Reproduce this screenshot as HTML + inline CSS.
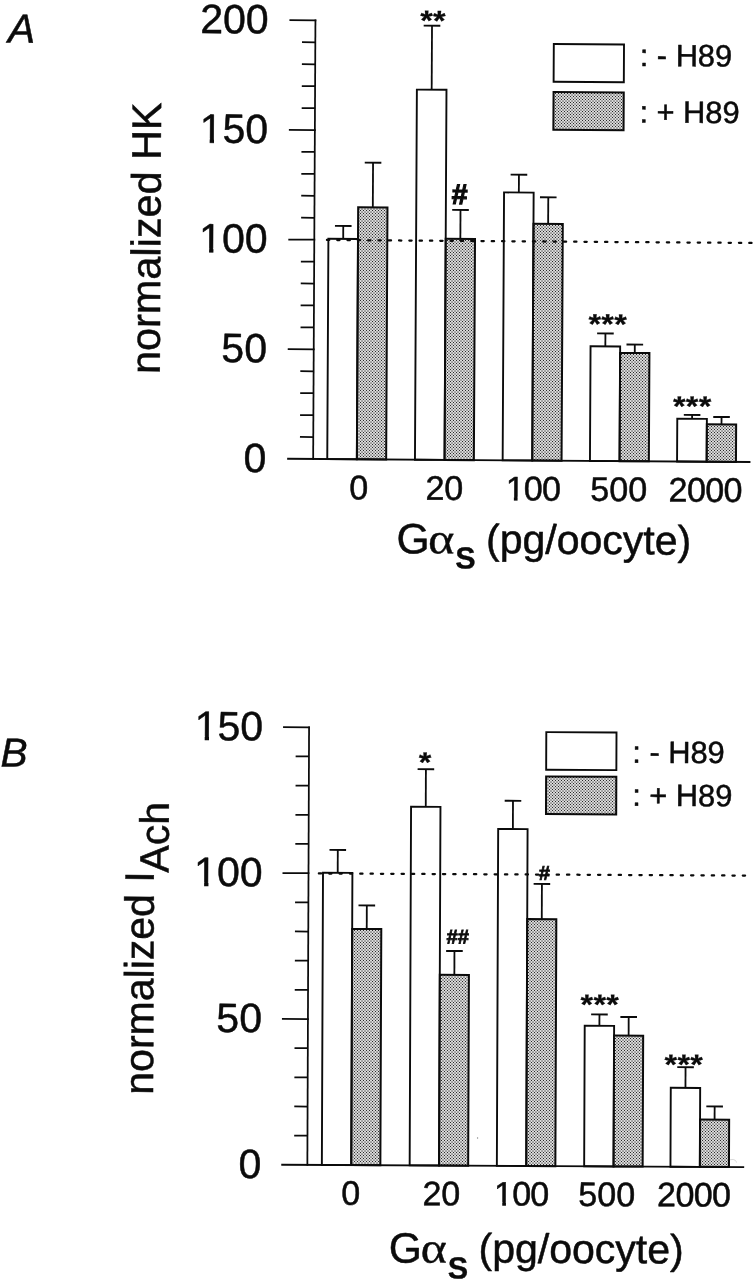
<!DOCTYPE html>
<html lang="en">
<head>
<meta charset="utf-8">
<title>Figure: normalized HK and I_ACh vs G&#945;s</title>
<style>
html,body{margin:0;padding:0;background:#fff;}
body{width:754px;height:1280px;overflow:hidden;font-family:"Liberation Sans", sans-serif;}
svg{display:block;filter:grayscale(1);}
text{text-rendering:geometricPrecision;}
</style>
</head>
<body>
<svg width="754" height="1280" viewBox="0 0 754 1280">
<defs>
<pattern id="htA" x="-0.25" y="-0.25" width="3" height="3" patternUnits="userSpaceOnUse" patternTransform="matrix(0.999964,-0.007000,0.005200,0.999964,-1.2313,2.2136)"><rect x="0" y="0" width="1.5" height="1.5" rx="0.3" fill="#050505"/><rect x="1.5" y="1.5" width="1.5" height="1.5" rx="0.3" fill="#707070"/></pattern>
<pattern id="htB" x="-0.25" y="-0.25" width="3" height="3" patternUnits="userSpaceOnUse" patternTransform="matrix(0.999981,-0.005000,0.003900,0.999981,-3.3986,1.5600)"><rect x="0" y="0" width="1.5" height="1.5" rx="0.3" fill="#050505"/><rect x="1.5" y="1.5" width="1.5" height="1.5" rx="0.3" fill="#707070"/></pattern>
</defs>
<rect width="754" height="1280" fill="#fff"/>
<g transform="matrix(1,0.007,-0.0052,1,1.2428,-2.2050)">
<rect x="328.4" y="238.7" width="29.6" height="220.3" fill="#fff" stroke="#0b0b0b" stroke-width="1.9"/>
<rect x="358" y="206.9" width="29.3" height="252.1" fill="url(#htA)" stroke="#0b0b0b" stroke-width="2.0"/>
<line x1="343.2" y1="238.7" x2="343.2" y2="225.7" stroke="#0b0b0b" stroke-width="1.8" />
<line x1="334.9" y1="225.7" x2="351.5" y2="225.7" stroke="#0b0b0b" stroke-width="1.9" />
<line x1="372.65" y1="206.9" x2="372.65" y2="162.3" stroke="#0b0b0b" stroke-width="1.8" />
<line x1="364.35" y1="162.3" x2="380.95" y2="162.3" stroke="#0b0b0b" stroke-width="1.9" />
<rect x="416.1" y="88.89" width="29.6" height="370.11" fill="#fff" stroke="#0b0b0b" stroke-width="1.9"/>
<rect x="445.7" y="237.78" width="29.3" height="221.22" fill="url(#htA)" stroke="#0b0b0b" stroke-width="2.0"/>
<line x1="430.9" y1="88.89" x2="430.9" y2="24.89" stroke="#0b0b0b" stroke-width="1.8" />
<line x1="422.6" y1="24.89" x2="439.2" y2="24.89" stroke="#0b0b0b" stroke-width="1.9" />
<line x1="460.35" y1="237.78" x2="460.35" y2="208.88" stroke="#0b0b0b" stroke-width="1.8" />
<line x1="452.05" y1="208.88" x2="468.65" y2="208.88" stroke="#0b0b0b" stroke-width="1.9" />
<rect x="503.8" y="191.07" width="29.6" height="267.93" fill="#fff" stroke="#0b0b0b" stroke-width="1.9"/>
<rect x="533.4" y="222.17" width="29.3" height="236.83" fill="url(#htA)" stroke="#0b0b0b" stroke-width="2.0"/>
<line x1="518.6" y1="191.07" x2="518.6" y2="173.27" stroke="#0b0b0b" stroke-width="1.8" />
<line x1="510.3" y1="173.27" x2="526.9" y2="173.27" stroke="#0b0b0b" stroke-width="1.9" />
<line x1="548.05" y1="222.17" x2="548.05" y2="195.67" stroke="#0b0b0b" stroke-width="1.8" />
<line x1="539.75" y1="195.67" x2="556.35" y2="195.67" stroke="#0b0b0b" stroke-width="1.9" />
<rect x="591.1" y="344.36" width="29.6" height="114.64" fill="#fff" stroke="#0b0b0b" stroke-width="1.9"/>
<rect x="620.7" y="350.76" width="29.3" height="108.24" fill="url(#htA)" stroke="#0b0b0b" stroke-width="2.0"/>
<line x1="605.9" y1="344.36" x2="605.9" y2="331.36" stroke="#0b0b0b" stroke-width="1.8" />
<line x1="597.6" y1="331.36" x2="614.2" y2="331.36" stroke="#0b0b0b" stroke-width="1.9" />
<line x1="635.35" y1="350.76" x2="635.35" y2="342.36" stroke="#0b0b0b" stroke-width="1.8" />
<line x1="627.05" y1="342.36" x2="643.65" y2="342.36" stroke="#0b0b0b" stroke-width="1.9" />
<rect x="678.2" y="416.15" width="29.6" height="42.85" fill="#fff" stroke="#0b0b0b" stroke-width="1.9"/>
<rect x="707.8" y="421.55" width="29.3" height="37.45" fill="url(#htA)" stroke="#0b0b0b" stroke-width="2.0"/>
<line x1="693" y1="416.15" x2="693" y2="412.25" stroke="#0b0b0b" stroke-width="1.8" />
<line x1="684.7" y1="412.25" x2="701.3" y2="412.25" stroke="#0b0b0b" stroke-width="1.9" />
<line x1="722.45" y1="421.55" x2="722.45" y2="414.15" stroke="#0b0b0b" stroke-width="1.8" />
<line x1="714.15" y1="414.15" x2="730.75" y2="414.15" stroke="#0b0b0b" stroke-width="1.9" />
<line x1="325.9" y1="239.9" x2="760" y2="239.9" stroke="#0b0b0b" stroke-width="2.25" stroke-dasharray="2.3 8.00" stroke-dashoffset="-1.05" stroke-linecap="round"/>
<line x1="314.3" y1="19.52" x2="314.3" y2="459.88" stroke="#0b0b0b" stroke-width="1.75" />
<line x1="288.3" y1="459" x2="751.6" y2="459" stroke="#0b0b0b" stroke-width="1.9" />
<line x1="288.3" y1="20.4" x2="315.2" y2="20.4" stroke="#0b0b0b" stroke-width="1.75" />
<line x1="301" y1="42.33" x2="314.3" y2="42.33" stroke="#0b0b0b" stroke-width="1.75" />
<line x1="301" y1="64.26" x2="314.3" y2="64.26" stroke="#0b0b0b" stroke-width="1.75" />
<line x1="301" y1="86.19" x2="314.3" y2="86.19" stroke="#0b0b0b" stroke-width="1.75" />
<line x1="301" y1="108.12" x2="314.3" y2="108.12" stroke="#0b0b0b" stroke-width="1.75" />
<line x1="288.3" y1="130.05" x2="315.2" y2="130.05" stroke="#0b0b0b" stroke-width="1.75" />
<line x1="301" y1="151.98" x2="314.3" y2="151.98" stroke="#0b0b0b" stroke-width="1.75" />
<line x1="301" y1="173.91" x2="314.3" y2="173.91" stroke="#0b0b0b" stroke-width="1.75" />
<line x1="301" y1="195.84" x2="314.3" y2="195.84" stroke="#0b0b0b" stroke-width="1.75" />
<line x1="301" y1="217.77" x2="314.3" y2="217.77" stroke="#0b0b0b" stroke-width="1.75" />
<line x1="288.3" y1="239.7" x2="315.2" y2="239.7" stroke="#0b0b0b" stroke-width="1.75" />
<line x1="301" y1="261.63" x2="314.3" y2="261.63" stroke="#0b0b0b" stroke-width="1.75" />
<line x1="301" y1="283.56" x2="314.3" y2="283.56" stroke="#0b0b0b" stroke-width="1.75" />
<line x1="301" y1="305.49" x2="314.3" y2="305.49" stroke="#0b0b0b" stroke-width="1.75" />
<line x1="301" y1="327.42" x2="314.3" y2="327.42" stroke="#0b0b0b" stroke-width="1.75" />
<line x1="288.3" y1="349.35" x2="315.2" y2="349.35" stroke="#0b0b0b" stroke-width="1.75" />
<line x1="301" y1="371.28" x2="314.3" y2="371.28" stroke="#0b0b0b" stroke-width="1.75" />
<line x1="301" y1="393.21" x2="314.3" y2="393.21" stroke="#0b0b0b" stroke-width="1.75" />
<line x1="301" y1="415.14" x2="314.3" y2="415.14" stroke="#0b0b0b" stroke-width="1.75" />
<line x1="301" y1="437.07" x2="314.3" y2="437.07" stroke="#0b0b0b" stroke-width="1.75" />
<text x="267.6" y="33.8" font-family='"Liberation Sans", sans-serif' font-size="41" font-weight="normal" font-style="normal" text-anchor="end" fill="#0b0b0b" stroke="#0b0b0b" stroke-width="0.5" stroke-linejoin="round" >200</text>
<text x="267.6" y="143.45" font-family='"Liberation Sans", sans-serif' font-size="41" font-weight="normal" font-style="normal" text-anchor="end" fill="#0b0b0b" stroke="#0b0b0b" stroke-width="0.5" stroke-linejoin="round" >150</text>
<rect x="200.72" y="139.29" width="8.44" height="5.36" fill="#fff"/><rect x="213.48" y="139.29" width="8.12" height="5.36" fill="#fff"/>
<text x="267.6" y="253.1" font-family='"Liberation Sans", sans-serif' font-size="41" font-weight="normal" font-style="normal" text-anchor="end" fill="#0b0b0b" stroke="#0b0b0b" stroke-width="0.5" stroke-linejoin="round" >100</text>
<rect x="200.72" y="248.94" width="8.44" height="5.36" fill="#fff"/><rect x="213.48" y="248.94" width="8.12" height="5.36" fill="#fff"/>
<text x="267.6" y="362.75" font-family='"Liberation Sans", sans-serif' font-size="41" font-weight="normal" font-style="normal" text-anchor="end" fill="#0b0b0b" stroke="#0b0b0b" stroke-width="0.5" stroke-linejoin="round" >50</text>
<text x="267.6" y="472.4" font-family='"Liberation Sans", sans-serif' font-size="41" font-weight="normal" font-style="normal" text-anchor="end" fill="#0b0b0b" stroke="#0b0b0b" stroke-width="0.5" stroke-linejoin="round" >0</text>
<text x="360" y="498.9" font-family='"Liberation Sans", sans-serif' font-size="34" font-weight="normal" font-style="normal" text-anchor="middle" fill="#0b0b0b" stroke="#0b0b0b" stroke-width="0.5" stroke-linejoin="round" >0</text>
<text x="445.7" y="498.9" font-family='"Liberation Sans", sans-serif' font-size="34" font-weight="normal" font-style="normal" text-anchor="middle" fill="#0b0b0b" stroke="#0b0b0b" stroke-width="0.5" stroke-linejoin="round" >20</text>
<text x="534.2" y="498.9" font-family='"Liberation Sans", sans-serif' font-size="34" font-weight="normal" font-style="normal" text-anchor="middle" fill="#0b0b0b" stroke="#0b0b0b" stroke-width="0.5" stroke-linejoin="round" letter-spacing="-0.8">100</text>
<rect x="508.03" y="495.26" width="7.21" height="4.84" fill="#fff"/><rect x="518.94" y="495.26" width="6.94" height="4.84" fill="#fff"/>
<text x="620.1" y="498.9" font-family='"Liberation Sans", sans-serif' font-size="34" font-weight="normal" font-style="normal" text-anchor="middle" fill="#0b0b0b" stroke="#0b0b0b" stroke-width="0.5" stroke-linejoin="round" >500</text>
<text x="706.6" y="498.9" font-family='"Liberation Sans", sans-serif' font-size="34" font-weight="normal" font-style="normal" text-anchor="middle" fill="#0b0b0b" stroke="#0b0b0b" stroke-width="0.5" stroke-linejoin="round" letter-spacing="-0.6">2000</text>
<text transform="translate(160.4,239.38) rotate(-90)" font-family='"Liberation Sans", sans-serif' font-size="41.4" text-anchor="middle" fill="#0b0b0b" stroke="#0b0b0b" stroke-width="0.5">normalized HK</text>
<text x="398.13" y="552.63" font-family='"Liberation Sans", sans-serif' font-size="42.5" font-weight="normal" font-style="normal" text-anchor="start" fill="#0b0b0b" stroke="#0b0b0b" stroke-width="0.5" stroke-linejoin="round" >G</text>
<text transform="translate(429.53,552.41) scale(1.17,1)" font-family='"Liberation Serif", serif' font-size="43" fill="#0b0b0b" stroke="#0b0b0b" stroke-width="0.35">α</text>
<text transform="translate(457.01,567.62) scale(1.0,1)" font-family='"Liberation Sans", sans-serif' font-size="30.5" font-weight="bold" fill="#0b0b0b" stroke="#0b0b0b" stroke-width="0.35">S</text>
<text x="487.63" y="552" font-family='"Liberation Sans", sans-serif' font-size="41" font-weight="normal" font-style="normal" text-anchor="start" fill="#0b0b0b" stroke="#0b0b0b" stroke-width="0.5" stroke-linejoin="round" >(pg/oocyte)</text>
<rect x="552.79" y="42.33" width="70.2" height="37.7" fill="#fff" stroke="#0b0b0b" stroke-width="1.9"/>
<rect x="552.79" y="90.43" width="70.2" height="37.7" fill="url(#htA)" stroke="#0b0b0b" stroke-width="2.0"/>
<text x="638.8" y="63.63" font-family='"Liberation Sans", sans-serif' font-size="30.8" font-weight="normal" font-style="normal" text-anchor="start" fill="#0b0b0b" stroke="#0b0b0b" stroke-width="0.5" stroke-linejoin="round" >: - H89</text>
<text x="638.8" y="120.23" font-family='"Liberation Sans", sans-serif' font-size="30.8" font-weight="normal" font-style="normal" text-anchor="start" fill="#0b0b0b" stroke="#0b0b0b" stroke-width="0.5" stroke-linejoin="round" >: + H89</text>
<text transform="translate(431.93,29.37) scale(1,0.88)" font-family='"Liberation Sans", sans-serif' font-size="32" font-weight="bold" text-anchor="middle" letter-spacing="0.4" fill="#0b0b0b" stroke="#0b0b0b" stroke-width="0.3">**</text>
<text transform="translate(608.21,331.55) scale(1,0.88)" font-family='"Liberation Sans", sans-serif' font-size="32" font-weight="bold" text-anchor="middle" letter-spacing="0.4" fill="#0b0b0b" stroke="#0b0b0b" stroke-width="0.3">***</text>
<text transform="translate(693.13,413.16) scale(1,0.88)" font-family='"Liberation Sans", sans-serif' font-size="32" font-weight="bold" text-anchor="middle" letter-spacing="0.4" fill="#0b0b0b" stroke="#0b0b0b" stroke-width="0.3">***</text>
<text x="459.12" y="203.09" font-family='"Liberation Sans", sans-serif' font-size="28.5" font-weight="bold" font-style="italic" text-anchor="middle" fill="#0b0b0b" stroke="#0b0b0b" stroke-width="1.15">#</text>
<text x="6.98" y="44.55" font-family='"Liberation Sans", sans-serif' font-size="40.5" font-weight="normal" font-style="italic" text-anchor="start" fill="#0b0b0b" stroke="#0b0b0b" stroke-width="0.5" stroke-linejoin="round" >A</text>
</g>
<g transform="matrix(1,0.005,-0.0039,1,3.4047,-1.5430)">
<rect x="323" y="872.65" width="29.4" height="292.25" fill="#fff" stroke="#0b0b0b" stroke-width="1.9"/>
<rect x="352.4" y="928.71" width="29.1" height="236.19" fill="url(#htB)" stroke="#0b0b0b" stroke-width="2.0"/>
<line x1="337.7" y1="872.65" x2="337.7" y2="849.75" stroke="#0b0b0b" stroke-width="1.8" />
<line x1="329.4" y1="849.75" x2="346" y2="849.75" stroke="#0b0b0b" stroke-width="1.9" />
<line x1="366.95" y1="928.71" x2="366.95" y2="905.11" stroke="#0b0b0b" stroke-width="1.8" />
<line x1="358.65" y1="905.11" x2="375.25" y2="905.11" stroke="#0b0b0b" stroke-width="1.9" />
<rect x="410.8" y="806.22" width="29.4" height="358.68" fill="#fff" stroke="#0b0b0b" stroke-width="1.9"/>
<rect x="440.2" y="974.17" width="29.1" height="190.73" fill="url(#htB)" stroke="#0b0b0b" stroke-width="2.0"/>
<line x1="425.5" y1="806.22" x2="425.5" y2="768.62" stroke="#0b0b0b" stroke-width="1.8" />
<line x1="417.2" y1="768.62" x2="433.8" y2="768.62" stroke="#0b0b0b" stroke-width="1.9" />
<line x1="454.75" y1="974.17" x2="454.75" y2="950.27" stroke="#0b0b0b" stroke-width="1.8" />
<line x1="446.45" y1="950.27" x2="463.05" y2="950.27" stroke="#0b0b0b" stroke-width="1.9" />
<rect x="498" y="827.98" width="29.4" height="336.92" fill="#fff" stroke="#0b0b0b" stroke-width="1.9"/>
<rect x="527.4" y="918.03" width="29.1" height="246.87" fill="url(#htB)" stroke="#0b0b0b" stroke-width="2.0"/>
<line x1="512.7" y1="827.98" x2="512.7" y2="799.78" stroke="#0b0b0b" stroke-width="1.8" />
<line x1="504.4" y1="799.78" x2="521" y2="799.78" stroke="#0b0b0b" stroke-width="1.9" />
<line x1="541.95" y1="918.03" x2="541.95" y2="882.73" stroke="#0b0b0b" stroke-width="1.8" />
<line x1="533.65" y1="882.73" x2="550.25" y2="882.73" stroke="#0b0b0b" stroke-width="1.9" />
<rect x="585.3" y="1024.34" width="29.4" height="140.56" fill="#fff" stroke="#0b0b0b" stroke-width="1.9"/>
<rect x="614.7" y="1034" width="29.1" height="130.9" fill="url(#htB)" stroke="#0b0b0b" stroke-width="2.0"/>
<line x1="600" y1="1024.34" x2="600" y2="1012.94" stroke="#0b0b0b" stroke-width="1.8" />
<line x1="591.7" y1="1012.94" x2="608.3" y2="1012.94" stroke="#0b0b0b" stroke-width="1.9" />
<line x1="629.25" y1="1034" x2="629.25" y2="1015.4" stroke="#0b0b0b" stroke-width="1.8" />
<line x1="620.95" y1="1015.4" x2="637.55" y2="1015.4" stroke="#0b0b0b" stroke-width="1.9" />
<rect x="671.6" y="1086.01" width="29.4" height="78.89" fill="#fff" stroke="#0b0b0b" stroke-width="1.9"/>
<rect x="701" y="1117.57" width="29.1" height="47.33" fill="url(#htB)" stroke="#0b0b0b" stroke-width="2.0"/>
<line x1="686.3" y1="1086.01" x2="686.3" y2="1065.31" stroke="#0b0b0b" stroke-width="1.8" />
<line x1="678" y1="1065.31" x2="694.6" y2="1065.31" stroke="#0b0b0b" stroke-width="1.9" />
<line x1="715.55" y1="1117.57" x2="715.55" y2="1104.37" stroke="#0b0b0b" stroke-width="1.8" />
<line x1="707.25" y1="1104.37" x2="723.85" y2="1104.37" stroke="#0b0b0b" stroke-width="1.9" />
<line x1="317.8" y1="873.4" x2="749" y2="873.4" stroke="#0b0b0b" stroke-width="2.25" stroke-dasharray="2.3 8.04" stroke-dashoffset="-1.05" stroke-linecap="round"/>
<line x1="308.5" y1="726.42" x2="308.5" y2="1165.78" stroke="#0b0b0b" stroke-width="1.75" />
<line x1="282.4" y1="1164.9" x2="745.3" y2="1164.9" stroke="#0b0b0b" stroke-width="1.9" />
<line x1="282.5" y1="727.3" x2="309.4" y2="727.3" stroke="#0b0b0b" stroke-width="1.75" />
<line x1="295.2" y1="756.47" x2="308.5" y2="756.47" stroke="#0b0b0b" stroke-width="1.75" />
<line x1="295.2" y1="785.65" x2="308.5" y2="785.65" stroke="#0b0b0b" stroke-width="1.75" />
<line x1="295.2" y1="814.82" x2="308.5" y2="814.82" stroke="#0b0b0b" stroke-width="1.75" />
<line x1="295.2" y1="843.99" x2="308.5" y2="843.99" stroke="#0b0b0b" stroke-width="1.75" />
<line x1="282.5" y1="873.17" x2="309.4" y2="873.17" stroke="#0b0b0b" stroke-width="1.75" />
<line x1="295.2" y1="902.34" x2="308.5" y2="902.34" stroke="#0b0b0b" stroke-width="1.75" />
<line x1="295.2" y1="931.51" x2="308.5" y2="931.51" stroke="#0b0b0b" stroke-width="1.75" />
<line x1="295.2" y1="960.69" x2="308.5" y2="960.69" stroke="#0b0b0b" stroke-width="1.75" />
<line x1="295.2" y1="989.86" x2="308.5" y2="989.86" stroke="#0b0b0b" stroke-width="1.75" />
<line x1="282.5" y1="1019.03" x2="309.4" y2="1019.03" stroke="#0b0b0b" stroke-width="1.75" />
<line x1="295.2" y1="1048.21" x2="308.5" y2="1048.21" stroke="#0b0b0b" stroke-width="1.75" />
<line x1="295.2" y1="1077.38" x2="308.5" y2="1077.38" stroke="#0b0b0b" stroke-width="1.75" />
<line x1="295.2" y1="1106.55" x2="308.5" y2="1106.55" stroke="#0b0b0b" stroke-width="1.75" />
<line x1="295.2" y1="1135.73" x2="308.5" y2="1135.73" stroke="#0b0b0b" stroke-width="1.75" />
<text x="262.6" y="740.7" font-family='"Liberation Sans", sans-serif' font-size="41" font-weight="normal" font-style="normal" text-anchor="end" fill="#0b0b0b" stroke="#0b0b0b" stroke-width="0.5" stroke-linejoin="round" >150</text>
<rect x="195.72" y="736.54" width="8.44" height="5.36" fill="#fff"/><rect x="208.48" y="736.54" width="8.12" height="5.36" fill="#fff"/>
<text x="262.6" y="886.57" font-family='"Liberation Sans", sans-serif' font-size="41" font-weight="normal" font-style="normal" text-anchor="end" fill="#0b0b0b" stroke="#0b0b0b" stroke-width="0.5" stroke-linejoin="round" >100</text>
<rect x="195.72" y="882.4" width="8.44" height="5.36" fill="#fff"/><rect x="208.48" y="882.4" width="8.12" height="5.36" fill="#fff"/>
<text x="262.6" y="1032.43" font-family='"Liberation Sans", sans-serif' font-size="41" font-weight="normal" font-style="normal" text-anchor="end" fill="#0b0b0b" stroke="#0b0b0b" stroke-width="0.5" stroke-linejoin="round" >50</text>
<text x="262.6" y="1178.3" font-family='"Liberation Sans", sans-serif' font-size="41" font-weight="normal" font-style="normal" text-anchor="end" fill="#0b0b0b" stroke="#0b0b0b" stroke-width="0.5" stroke-linejoin="round" >0</text>
<text x="352" y="1204.6" font-family='"Liberation Sans", sans-serif' font-size="34" font-weight="normal" font-style="normal" text-anchor="middle" fill="#0b0b0b" stroke="#0b0b0b" stroke-width="0.5" stroke-linejoin="round" >0</text>
<text x="442.6" y="1204.6" font-family='"Liberation Sans", sans-serif' font-size="34" font-weight="normal" font-style="normal" text-anchor="middle" fill="#0b0b0b" stroke="#0b0b0b" stroke-width="0.5" stroke-linejoin="round" >20</text>
<text x="522.5" y="1204.6" font-family='"Liberation Sans", sans-serif' font-size="34" font-weight="normal" font-style="normal" text-anchor="middle" fill="#0b0b0b" stroke="#0b0b0b" stroke-width="0.5" stroke-linejoin="round" letter-spacing="-0.8">100</text>
<rect x="496.33" y="1200.96" width="7.21" height="4.84" fill="#fff"/><rect x="507.24" y="1200.96" width="6.94" height="4.84" fill="#fff"/>
<text x="608" y="1204.6" font-family='"Liberation Sans", sans-serif' font-size="34" font-weight="normal" font-style="normal" text-anchor="middle" fill="#0b0b0b" stroke="#0b0b0b" stroke-width="0.5" stroke-linejoin="round" >500</text>
<text x="695" y="1204.6" font-family='"Liberation Sans", sans-serif' font-size="34" font-weight="normal" font-style="normal" text-anchor="middle" fill="#0b0b0b" stroke="#0b0b0b" stroke-width="0.5" stroke-linejoin="round" letter-spacing="-0.6">2000</text>
<text transform="translate(153.86,1093.28) rotate(-90)" font-family='"Liberation Sans", sans-serif' font-size="41" text-anchor="start" fill="#0b0b0b" stroke="#0b0b0b" stroke-width="0.5"><tspan dx="-2.2">normalized I</tspan><tspan dy="14.7" dx="-1.2">Ach</tspan></text>
<text x="390.32" y="1262.1" font-family='"Liberation Sans", sans-serif' font-size="42.5" font-weight="normal" font-style="normal" text-anchor="start" fill="#0b0b0b" stroke="#0b0b0b" stroke-width="0.5" stroke-linejoin="round" >G</text>
<text transform="translate(422.02,1261.94) scale(1.17,1)" font-family='"Liberation Serif", serif' font-size="43" fill="#0b0b0b" stroke="#0b0b0b" stroke-width="0.35">α</text>
<text transform="translate(449.28,1277.7) scale(1.0,1)" font-family='"Liberation Sans", sans-serif' font-size="30.5" font-weight="bold" fill="#0b0b0b" stroke="#0b0b0b" stroke-width="0.35">S</text>
<text x="480.02" y="1261.65" font-family='"Liberation Sans", sans-serif' font-size="41" font-weight="normal" font-style="normal" text-anchor="start" fill="#0b0b0b" stroke="#0b0b0b" stroke-width="0.5" stroke-linejoin="round" >(pg/oocyte)</text>
<rect x="545.75" y="730.91" width="70.2" height="37.7" fill="#fff" stroke="#0b0b0b" stroke-width="1.9"/>
<rect x="545.75" y="775.21" width="70.2" height="37.7" fill="url(#htB)" stroke="#0b0b0b" stroke-width="2.0"/>
<text x="631.87" y="761.11" font-family='"Liberation Sans", sans-serif' font-size="30.8" font-weight="normal" font-style="normal" text-anchor="start" fill="#0b0b0b" stroke="#0b0b0b" stroke-width="0.5" stroke-linejoin="round" >: - H89</text>
<text x="631.87" y="804.21" font-family='"Liberation Sans", sans-serif' font-size="30.8" font-weight="normal" font-style="normal" text-anchor="start" fill="#0b0b0b" stroke="#0b0b0b" stroke-width="0.5" stroke-linejoin="round" >: + H89</text>
<text transform="translate(424.82,771.12) scale(1,0.88)" font-family='"Liberation Sans", sans-serif' font-size="32" font-weight="bold" text-anchor="middle" letter-spacing="0.4" fill="#0b0b0b" stroke="#0b0b0b" stroke-width="0.3">*</text>
<text transform="translate(600.36,1012.54) scale(1,0.88)" font-family='"Liberation Sans", sans-serif' font-size="32" font-weight="bold" text-anchor="middle" letter-spacing="0.4" fill="#0b0b0b" stroke="#0b0b0b" stroke-width="0.3">***</text>
<text transform="translate(684.59,1072.12) scale(1,0.88)" font-family='"Liberation Sans", sans-serif' font-size="32" font-weight="bold" text-anchor="middle" letter-spacing="0.4" fill="#0b0b0b" stroke="#0b0b0b" stroke-width="0.3">***</text>
<text x="457.78" y="942.86" font-family='"Liberation Sans", sans-serif' font-size="20" font-weight="bold" font-style="italic" text-anchor="middle" fill="#0b0b0b" stroke="#0b0b0b" stroke-width="0.8">##</text>
<text x="544.03" y="878.72" font-family='"Liberation Sans", sans-serif' font-size="20" font-weight="bold" font-style="italic" text-anchor="middle" fill="#0b0b0b" stroke="#0b0b0b" stroke-width="0.8">#</text>
<circle cx="478.6" cy="1137.2" r="0.7" fill="#8a8a8a"/>
<path d="M731.2 1157.6 q3.6 -0.9 5.2 0.6 q0.9 0.8 1.2 2.2" fill="none" stroke="#c9c9c9" stroke-width="0.7"/>
<text x="0.19" y="768.14" font-family='"Liberation Sans", sans-serif' font-size="40.5" font-weight="normal" font-style="italic" text-anchor="start" fill="#0b0b0b" stroke="#0b0b0b" stroke-width="0.5" stroke-linejoin="round" >B</text>
</g>
</svg>
</body>
</html>
